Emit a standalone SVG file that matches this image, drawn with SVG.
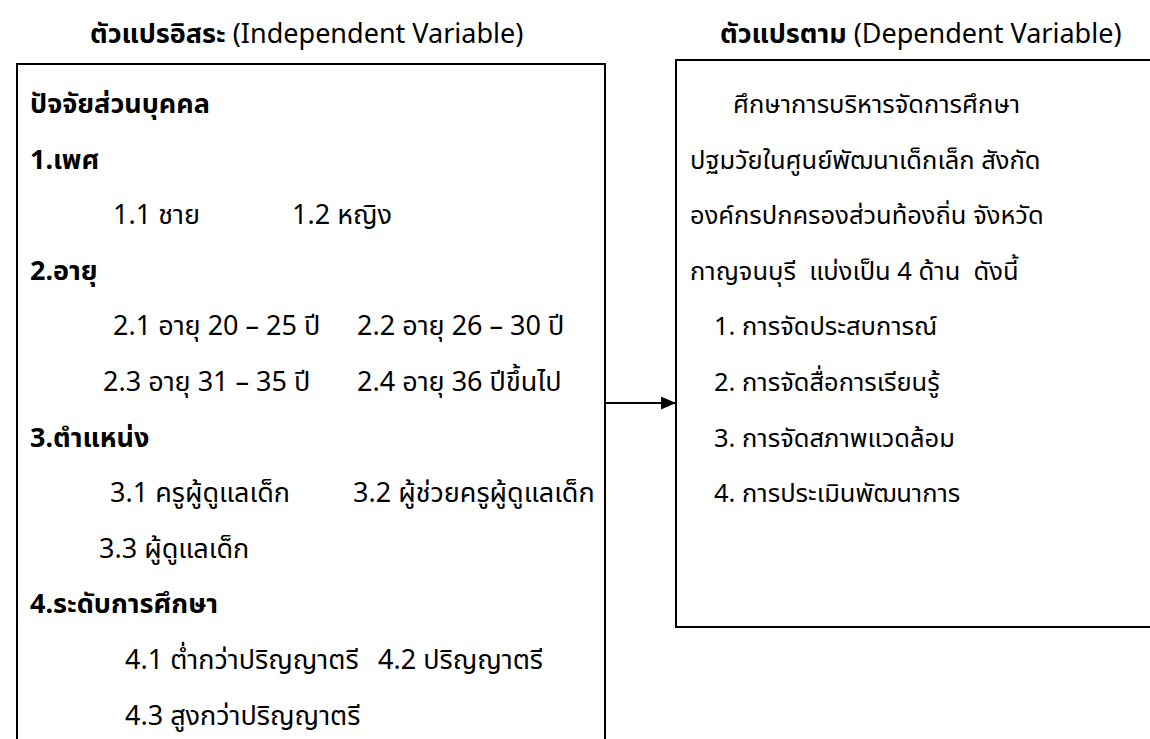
<svg xmlns="http://www.w3.org/2000/svg" width="1150" height="739" viewBox="0 0 1150 739">
<style>
text{font-family:"Noto Sans","Noto Sans Thai",sans-serif;font-size:27px;fill:#000}
.b{font-weight:bold}
.r{font-size:25.5px}
.box{fill:#fff;stroke:#000;stroke-width:2}
.conn{stroke:#000;stroke-width:2;fill:none}
</style>
<defs>
<marker id="ah" markerWidth="15" markerHeight="13" refX="15" refY="6.5" orient="auto" markerUnits="userSpaceOnUse" viewBox="0 0 15 13">
<path d="M0,0 L15,6.5 L0,13 z" fill="#000"/>
</marker>
</defs>
<rect width="1150" height="739" fill="#fff"/>
<g id="title-independent"><text x="90" y="43"><tspan class="b">ตัวแปรอิสระ</tspan> (Independent Variable)</text></g>
<g id="title-dependent"><text x="720" y="43"><tspan class="b">ตัวแปรตาม</tspan> (Dependent Variable)</text></g>
<g id="independent">
<rect class="box" x="17" y="64" width="588" height="700"/>
<text class="b" x="30" y="113">ปัจจัยส่วนบุคคล</text>
<text class="b" x="30" y="169">1.เพศ</text>
<text x="113" y="224">1.1 ชาย</text>
<text x="292" y="224">1.2 หญิง</text>
<text class="b" x="30" y="280">2.อายุ</text>
<text x="113" y="335">2.1 อายุ 20 – 25 ปี</text>
<text x="357" y="335">2.2 อายุ 26 – 30 ปี</text>
<text x="103" y="391">2.3 อายุ 31 – 35 ปี</text>
<text x="357" y="391">2.4 อายุ 36 ปีขึ้นไป</text>
<text class="b" x="30" y="447">3.ตำแหน่ง</text>
<text x="110" y="502">3.1 ครูผู้ดูแลเด็ก</text>
<text x="353" y="502">3.2 ผู้ช่วยครูผู้ดูแลเด็ก</text>
<text x="99" y="558">3.3 ผู้ดูแลเด็ก</text>
<text class="b" x="30" y="613">4.ระดับการศึกษา</text>
<text x="125" y="669">4.1 ต่ำกว่าปริญญาตรี</text>
<text x="378" y="669">4.2 ปริญญาตรี</text>
<text x="125" y="725">4.3 สูงกว่าปริญญาตรี</text>
</g>
<g id="dependent">
<rect class="box" x="676" y="60" width="500" height="567"/>
<text class="r" x="733" y="113">ศึกษาการบริหารจัดการศึกษา</text>
<text class="r" x="690" y="169">ปฐมวัยในศูนย์พัฒนาเด็กเล็ก สังกัด</text>
<text class="r" x="690" y="224">องค์กรปกครองส่วนท้องถิ่น จังหวัด</text>
<text class="r" x="690" y="280" xml:space="preserve">กาญจนบุรี  แบ่งเป็น 4 ด้าน  ดังนี้</text>
<text class="r" x="714" y="335">1. การจัดประสบการณ์</text>
<text class="r" x="714" y="391">2. การจัดสื่อการเรียนรู้</text>
<text class="r" x="714" y="447">3. การจัดสภาพแวดล้อม</text>
<text class="r" x="714" y="502">4. การประเมินพัฒนาการ</text>
</g>
<g id="connectors">
<line class="conn" x1="605" y1="403" x2="676" y2="403" marker-end="url(#ah)"/>
</g>
</svg>
